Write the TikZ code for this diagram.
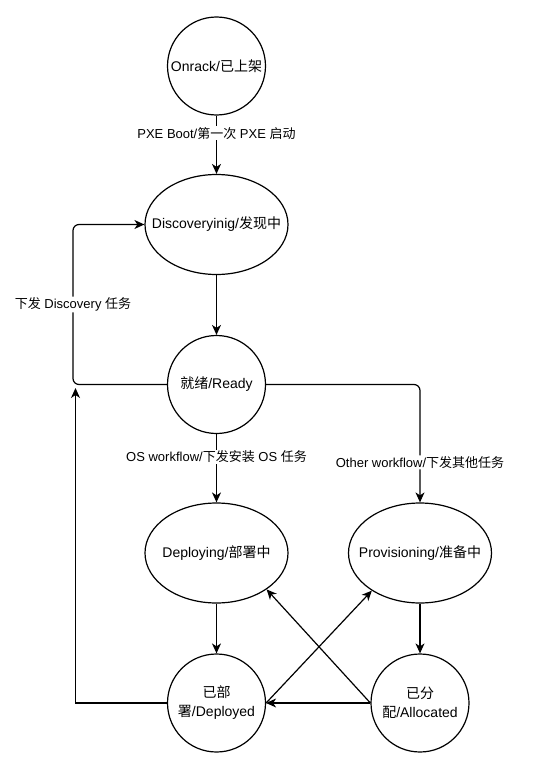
\documentclass[tikz,border=0pt]{standalone}
\usepackage{fontspec}
\setmainfont{Liberation Sans}
\newfontfamily\cjk{Noto Sans CJK SC}
\newcommand{\zh}[1]{{\cjk #1}}
\usetikzlibrary{shapes.geometric,arrows.meta}

\begin{document}
\begin{tikzpicture}[x=1pt,y=-1pt,line width=1.2pt,
    font=\fontsize{14}{19}\selectfont,
    round/.style={draw,circle,minimum size=98pt,inner sep=0pt,align=center},
    oval/.style={draw,ellipse,minimum width=143pt,minimum height=100pt,inner xsep=-25pt,inner ysep=0pt},
    tag/.style={fill=white,inner sep=1pt,font=\fontsize{13}{15}\selectfont},
    flow/.style={-{Stealth[length=10pt,width=9pt,inset=3pt]}}]
    \useasboundingbox (0,0) rectangle (546,768);

    % states
    \node[round] (onrack) at (216.5,66) {Onrack/\zh{已上架}};
    \node[oval] (discovering) at (216.5,224.5) {Discoveryinig/\zh{发现中}};
    \node[round] (ready) at (216.5,384.5) {\zh{就绪}/Ready};
    \node[oval] (deploying) at (216.5,553) {Deploying/\zh{部署中}};
    \node[oval] (provisioning) at (420,553) {Provisioning/\zh{准备中}};
    \node[round] (deployed) at (216.5,703) {\zh{已部}\\\zh{署}/Deployed};
    \node[round] (allocated) at (420,703) {\zh{已分}\\\zh{配}/Allocated};

    % transitions
    \draw[flow] (onrack) -- node[tag,pos=0.3] {PXE Boot/\zh{第一次} PXE \zh{启动}} (discovering);
    \draw[flow] (discovering) -- (ready);
    \draw[flow,rounded corners=6pt] (ready.west) -- (73,384.5) -- node[tag] {\zh{下发} Discovery \zh{任务}} (73,224.5) -- (discovering.west);
    \draw[flow] (ready) -- node[tag,pos=0.33] {OS workflow/\zh{下发安装} OS \zh{任务}} (deploying);
    \draw[flow,rounded corners=6pt] (ready.east) -- (420,384.5) -- node[tag,pos=0.66] {Other workflow/\zh{下发其他任务}} (provisioning.north);
    \draw[flow] (deploying) -- (deployed);
    \draw[flow] (provisioning) -- (allocated);
    \draw[flow] (allocated.west) -- (deployed.east);
    \draw[flow] (allocated.west) -- (deploying.-36);
    \draw[flow] (deployed.east) -- (provisioning.-142);

    % back to ready
    \coordinate (back) at (75.5,388);
    \draw[flow] (deployed.west) -- (75.5,703) -- (back);
\end{tikzpicture}
\end{document}
